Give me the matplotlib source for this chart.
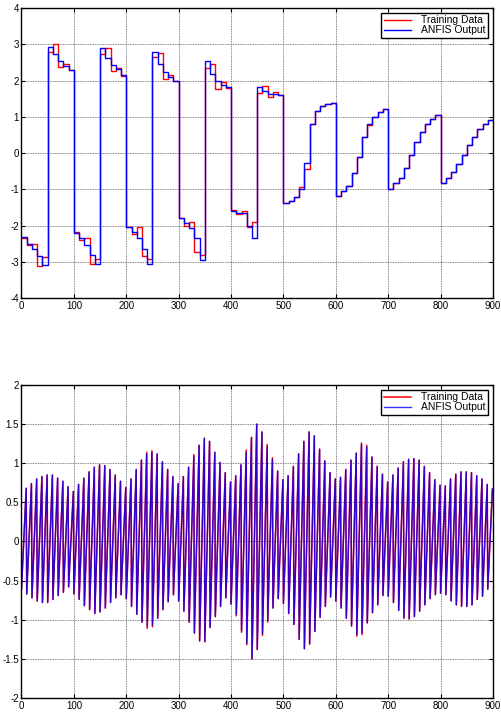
import numpy as np
import matplotlib
matplotlib.use("Agg")
import matplotlib.pyplot as plt

plt.rcParams['font.family'] = ['Liberation Sans', 'DejaVu Sans']

# ---- panel 1: step signal, one level every 10 samples ----
step_len = 10
train_steps = [-2.35, -2.55, -2.50, -3.12, -2.87,
               2.78, 3.00, 2.37, 2.46, 2.28,
               -2.18, -2.41, -2.35, -3.05, -2.92,
               2.72, 2.89, 2.27, 2.34, 2.13,
               -2.03, -2.24, -2.05, -2.85, -2.92,
               2.64, 2.77, 2.04, 2.16, 2.00,
               -1.78, -2.00, -1.89, -2.73, -2.82,
               2.34, 2.45, 1.76, 1.95, 1.79,
               -1.56, -1.68, -1.61, -2.03, -1.89,
               1.65, 1.86, 1.54, 1.68, 1.59,
               -1.39, -1.32, -1.20, -0.93, -0.45, 0.79, 1.15, 1.29, 1.35, 1.38,
               -1.18, -1.06, -0.90, -0.56, -0.10, 0.43, 0.77, 1.00, 1.12, 1.22,
               -0.98, -0.84, -0.68, -0.40, -0.06, 0.31, 0.58, 0.80, 0.94, 1.04,
               -0.83, -0.70, -0.52, -0.31, -0.05, 0.22, 0.45, 0.65, 0.79, 0.90]
anfis_steps = [-2.33, -2.50, -2.66, -2.85, -3.08,
               2.93, 2.73, 2.55, 2.40, 2.28,
               -2.20, -2.35, -2.55, -2.80, -3.07,
               2.89, 2.63, 2.42, 2.31, 2.14,
               -2.05, -2.17, -2.35, -2.64, -3.05,
               2.80, 2.46, 2.23, 2.09, 2.00,
               -1.80, -1.93, -2.06, -2.35, -2.96,
               2.55, 2.18, 2.00, 1.88, 1.81,
               -1.61, -1.66, -1.66, -2.00, -2.35,
               1.82, 1.70, 1.64, 1.63, 1.59,
               -1.39, -1.32, -1.22, -0.98, -0.27, 0.79, 1.15, 1.29, 1.35, 1.38,
               -1.18, -1.06, -0.90, -0.56, -0.10, 0.45, 0.79, 1.00, 1.12, 1.22,
               -0.98, -0.84, -0.68, -0.40, -0.06, 0.30, 0.58, 0.80, 0.94, 1.04,
               -0.83, -0.70, -0.52, -0.31, -0.05, 0.22, 0.45, 0.65, 0.79, 0.90]

# ---- panel 2: oscillation, period 10 samples (peak, then fast drop to trough) ----
start_val = -0.61
anfis_peaks = [0.68, 0.74, 0.80, 0.83, 0.85, 0.85, 0.81, 0.77, 0.70, 0.64,
               0.73, 0.81, 0.89, 0.95, 0.98, 0.97, 0.92, 0.85, 0.77, 0.69,
               0.80, 0.92, 1.04, 1.12, 1.14, 1.12, 1.02, 0.92, 0.83, 0.74,
               0.83, 0.95, 1.09, 1.23, 1.32, 1.28, 1.14, 1.01, 0.88, 0.76,
               0.84, 0.98, 1.14, 1.33, 1.50, 1.40, 1.21, 1.05, 0.90, 0.79,
               0.84, 0.96, 1.12, 1.28, 1.40, 1.35, 1.18, 1.03, 0.88, 0.80,
               0.82, 0.92, 1.04, 1.13, 1.24, 1.21, 1.08, 0.96, 0.86, 0.76,
               0.85, 0.94, 1.02, 1.05, 1.06, 1.04, 0.96, 0.88, 0.79, 0.72,
               0.71, 0.80, 0.86, 0.89, 0.89, 0.88, 0.84, 0.80, 0.73, 0.67]
anfis_troughs = [-0.67, -0.72, -0.76, -0.78, -0.78, -0.74, -0.69, -0.65, -0.58, -0.67,
                 -0.74, -0.82, -0.87, -0.92, -0.90, -0.85, -0.78, -0.72, -0.68, -0.73,
                 -0.83, -0.93, -1.03, -1.08, -1.07, -0.98, -0.87, -0.77, -0.68, -0.76,
                 -0.89, -1.03, -1.17, -1.27, -1.28, -1.10, -0.96, -0.83, -0.72, -0.80,
                 -0.93, -1.14, -1.30, -1.50, -1.38, -1.18, -1.01, -0.85, -0.73, -0.79,
                 -0.92, -1.06, -1.25, -1.37, -1.31, -1.15, -0.97, -0.83, -0.71, -0.76,
                 -0.85, -0.98, -1.08, -1.19, -1.17, -1.04, -0.91, -0.81, -0.69, -0.70,
                 -0.78, -0.88, -0.98, -0.99, -0.96, -0.89, -0.81, -0.73, -0.68, -0.66,
                 -0.68, -0.76, -0.81, -0.83, -0.83, -0.81, -0.74, -0.70, -0.61]
# cycles where the training data pokes out past the ANFIS output
dev_cycle = [23, 24, 32, 40, 41, 42, 45, 46, 47, 63, 64, 65]
dev_peak = [0.02, 0.02, 0.02, 0.0, 0.0, 0.03, 0.0, 0.03, 0.02, 0.0, 0.02, 0.02]
dev_trough = [-0.03, -0.02, 0.0, -0.02, -0.02, -0.02, -0.02, -0.02, 0.0, -0.02, -0.02, 0.0]

train_peaks = list(anfis_peaks)
train_troughs = list(anfis_troughs)
for c, dp, dt in zip(dev_cycle, dev_peak, dev_trough):
    train_peaks[c] += dp
    train_troughs[c] += dt


def step_xy(vals):
    edges = np.arange(len(vals) + 1) * step_len
    return edges, np.append(vals, vals[-1])


def wave_xy(peaks, troughs):
    xs = [0]
    ys = [start_val]
    for k, p in enumerate(peaks):
        xs.append(10 * k + 9)
        ys.append(p)
        if k < len(troughs):
            xs.append(10 * k + 10)
            ys.append(troughs[k])
    return xs, ys


def style_axes(ax, yticks, ylabels):
    ax.set_xlim(0, 900)
    ax.set_xticks(range(0, 901, 100))
    ax.set_ylim(yticks[0], yticks[-1])
    ax.set_yticks(yticks)
    ax.set_yticklabels(ylabels)
    ax.grid(True, linestyle=(0, (1, 1)), color='0.35', linewidth=0.6)
    ax.tick_params(direction='in', top=True, right=True, length=3,
                   labelsize=7, pad=2, width=0.8)
    for s in ax.spines.values():
        s.set_linewidth(1.0)


fig = plt.figure(figsize=(5.01, 7.14), dpi=100)
ax1 = fig.add_axes([0.0429, 0.5826, 0.9411, 0.4062])
ax2 = fig.add_axes([0.0429, 0.0224, 0.9411, 0.4384])

x, y = step_xy(train_steps)
ax1.step(x, y, where='post', color='red', lw=1.0, label='Training Data')
x, y = step_xy(anfis_steps)
ax1.step(x, y, where='post', color='blue', lw=1.0, label='ANFIS Output')
style_axes(ax1, list(range(-4, 5)), [str(v) for v in range(-4, 5)])

x, y = wave_xy(train_peaks, train_troughs)
ax2.plot(x, y, color='red', lw=1.1, label='Training Data')
x, y = wave_xy(anfis_peaks, anfis_troughs)
ax2.plot(x, y, color='blue', lw=1.0, alpha=0.8, label='ANFIS Output')
yt = [-2, -1.5, -1, -0.5, 0, 0.5, 1, 1.5, 2]
style_axes(ax2, yt, ['-2', '-1.5', '-1', '-0.5', '0', '0.5', '1', '1.5', '2'])

for ax in (ax1, ax2):
    leg = ax.legend(loc='upper right', fontsize=7.5, handlelength=2.6,
                    handletextpad=1.0, borderpad=0.25, labelspacing=0.0,
                    borderaxespad=0.45, fancybox=False, framealpha=1)
    leg.get_frame().set_edgecolor('black')
    leg.get_frame().set_linewidth(1.0)

fig.savefig('out.png', dpi=100)
